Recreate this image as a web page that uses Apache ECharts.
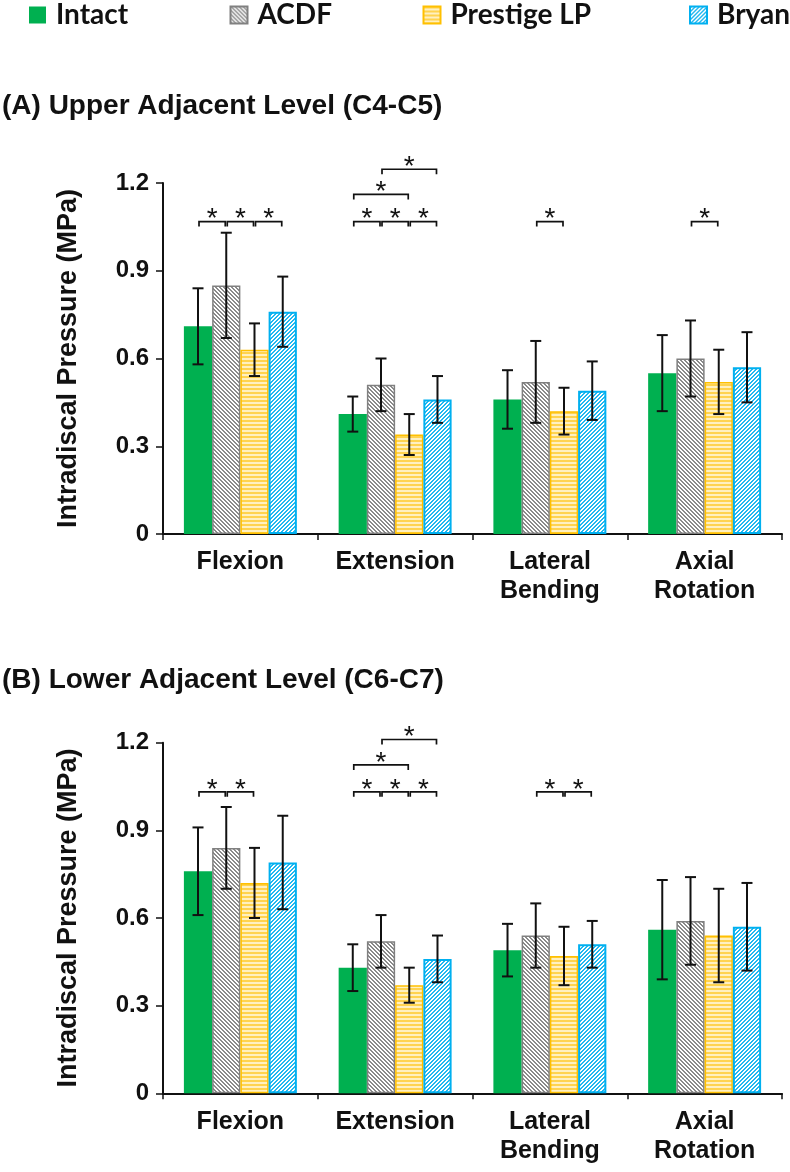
<!DOCTYPE html>
<html>
<head>
<meta charset="utf-8">
<script src="https://cdn.jsdelivr.net/npm/echarts@6/dist/echarts.min.js"></script>
<style>
html,body{margin:0;padding:0;background:#fff;}
#chart{width:790px;height:1172px;}
</style>
</head>
<body>
<div id="chart"></div>
<script>
// ---------- data ----------
const categories = ['Flexion', 'Extension', 'Lateral\nBending', 'Axial\nRotation'];
const seriesNames = ['Intact', 'ACDF', 'Prestige LP', 'Bryan'];
const yTicks = [0, 0.3, 0.6, 0.9, 1.2];

// (A) Upper adjacent level (C4-C5): mean and SD (MPa)
const upperIntact   = [0.71, 0.41, 0.46, 0.55];
const upperACDF     = [0.85, 0.51, 0.52, 0.60];
const upperPrestige = [0.63, 0.34, 0.42, 0.52];
const upperBryan    = [0.76, 0.46, 0.49, 0.57];
const upperIntactSD   = [0.13, 0.06, 0.10, 0.13];
const upperACDFSD     = [0.18, 0.09, 0.14, 0.13];
const upperPrestigeSD = [0.09, 0.07, 0.08, 0.11];
const upperBryanSD    = [0.12, 0.08, 0.10, 0.12];

// (B) Lower adjacent level (C6-C7)
const lowerIntact   = [0.76, 0.43, 0.49, 0.56];
const lowerACDF     = [0.84, 0.52, 0.54, 0.59];
const lowerPrestige = [0.72, 0.37, 0.47, 0.54];
const lowerBryan    = [0.79, 0.46, 0.51, 0.57];
const lowerIntactSD   = [0.15, 0.08, 0.09, 0.17];
const lowerACDFSD     = [0.14, 0.09, 0.11, 0.15];
const lowerPrestigeSD = [0.12, 0.06, 0.10, 0.16];
const lowerBryanSD    = [0.16, 0.08, 0.08, 0.15];

// significance brackets: [category index, from group, to group, bracket level (MPa)]
const upperBrackets = [
  [0, 0, 1, 1.068], [0, 1, 2, 1.068], [0, 2, 3, 1.068],
  [1, 0, 1, 1.068], [1, 1, 2, 1.068], [1, 2, 3, 1.068],
  [1, 0, 2, 1.161], [1, 1, 3, 1.247],
  [2, 1, 2, 1.068],
  [3, 1, 2, 1.068]
];
const lowerBrackets = [
  [0, 0, 1, 1.032], [0, 1, 2, 1.032],
  [1, 0, 1, 1.032], [1, 1, 2, 1.032], [1, 2, 3, 1.032],
  [1, 0, 2, 1.124], [1, 1, 3, 1.211],
  [2, 1, 2, 1.032], [2, 2, 3, 1.032]
];

// ---------- styling helpers ----------
const FONT = '"Liberation Sans", Arial, sans-serif';
const LEGEND_FONT = 'Lato, "Open Sans", sans-serif';
const GAP_RATIO = 0.27;

function makePattern(kind) {
  const c = document.createElement('canvas');
  const n = 4;
  c.width = n; c.height = n;
  const ctx = c.getContext('2d');
  for (let y = 0; y < n; y++) {
    for (let x = 0; x < n; x++) {
      let col;
      if (kind === 'gray') col = (((x - y) % n + n) % n) < 2 ? '#8a8a8a' : '#ffffff';
      else if (kind === 'blue') col = ((x + y) % n) < 2 ? '#22b8f0' : '#ffffff';
      else col = (y < 2) ? '#ffd34f' : '#fff0c0';
      ctx.fillStyle = col;
      ctx.fillRect(x, y, 1, 1);
    }
  }
  return { image: c, repeat: 'repeat' };
}

const barStyles = [
  { color: '#00b050', borderWidth: 0 },
  { color: makePattern('gray'), borderColor: '#808080', borderWidth: 1.5 },
  { color: makePattern('yellow'), borderColor: '#ffc000', borderWidth: 1.5 },
  { color: makePattern('blue'), borderColor: '#00b0f0', borderWidth: 2 }
];

function barOffset(api, idx) {
  const bandW = api.size([1, 0])[0];
  const bw = bandW * (1 - GAP_RATIO) / 4;
  return (idx - 1.5) * bw;
}

function errorRender(params, api) {
  const cat = api.value(0), s = api.value(1), m = api.value(2), sd = api.value(3);
  const top = api.coord([cat, m + sd]);
  const bot = api.coord([cat, m - sd]);
  const x = top[0] + barOffset(api, s);
  const st = { stroke: '#111', lineWidth: 2 };
  return {
    type: 'group',
    children: [
      { type: 'line', shape: { x1: x, y1: top[1], x2: x, y2: bot[1] }, style: st },
      { type: 'line', shape: { x1: x - 5.5, y1: top[1], x2: x + 5.5, y2: top[1] }, style: st },
      { type: 'line', shape: { x1: x - 5.5, y1: bot[1], x2: x + 5.5, y2: bot[1] }, style: st }
    ]
  };
}

function bracketRender(params, api) {
  const cat = api.value(0), a = api.value(1), b = api.value(2), lvl = api.value(3);
  const p = api.coord([cat, lvl]);
  const x1 = p[0] + barOffset(api, a) + 1;
  const x2 = p[0] + barOffset(api, b) - 1;
  const y = p[1];
  return {
    type: 'group',
    children: [
      { type: 'polyline', shape: { points: [[x1, y + 5], [x1, y], [x2, y], [x2, y + 5]] },
        style: { stroke: '#111', lineWidth: 1.7, fill: null } },
      { type: 'text', x: (x1 + x2) / 2, y: y - 2,
        style: { text: '*', font: '28px ' + FONT, fill: '#111', align: 'center', verticalAlign: 'middle',
                 textAlign: 'center', textVerticalAlign: 'middle' } }
    ]
  };
}

const upperMeans = [upperIntact, upperACDF, upperPrestige, upperBryan];
const upperSDs = [upperIntactSD, upperACDFSD, upperPrestigeSD, upperBryanSD];
const lowerMeans = [lowerIntact, lowerACDF, lowerPrestige, lowerBryan];
const lowerSDs = [lowerIntactSD, lowerACDFSD, lowerPrestigeSD, lowerBryanSD];

function errorData(means, sds) {
  const out = [];
  means.forEach((arr, s) => arr.forEach((m, c) => out.push([c, s, m, sds[s][c]])));
  return out;
}

const grids = [
  { left: 163, top: 183, width: 619, height: 351 },
  { left: 163, top: 742.7, width: 619, height: 350.6 }
];

const xAxes = grids.map((g, i) => ({
  type: 'category', gridIndex: i, data: categories,
  axisLine: { lineStyle: { color: '#111', width: 2 } },
  axisTick: { show: true, length: 6, lineStyle: { color: '#111', width: 1.5 } },
  axisLabel: { interval: 0, hideOverlap: false, color: '#111', fontSize: 25, fontWeight: 'bold',
               fontFamily: FONT, lineHeight: 29, margin: 14 }
}));

const yAxes = grids.map((g, i) => ({
  type: 'value', gridIndex: i, min: 0, max: 1.2, interval: 0.3,
  name: 'Intradiscal Pressure (MPa)', nameLocation: 'middle', nameGap: 81, nameRotate: 90,
  nameTextStyle: { color: '#111', fontSize: 27, fontWeight: 'bold', fontFamily: FONT },
  axisLine: { show: true, lineStyle: { color: '#111', width: 2 } },
  axisTick: { show: true, length: 7, lineStyle: { color: '#111', width: 1.5 } },
  splitLine: { show: false },
  axisLabel: {
    color: '#111', fontSize: 24, fontWeight: 'bold', fontFamily: FONT, margin: 14,
    formatter: v => { const t = yTicks.find(k => Math.abs(k - v) < 1e-6); return t === undefined ? '' : String(t); }
  }
}));

const series = [];
[upperMeans, lowerMeans].forEach((means, gi) => {
  means.forEach((arr, s) => {
    series.push({
      type: 'bar', name: seriesNames[s], xAxisIndex: gi, yAxisIndex: gi, data: arr,
      barGap: 0, barCategoryGap: (GAP_RATIO * 100) + '%',
      itemStyle: barStyles[s], emphasis: { disabled: true }, silent: true
    });
  });
});
series.push({ type: 'custom', xAxisIndex: 0, yAxisIndex: 0, renderItem: errorRender, encode: { x: 0, y: 2 },
  data: errorData(upperMeans, upperSDs), z: 10, silent: true });
series.push({ type: 'custom', xAxisIndex: 1, yAxisIndex: 1, renderItem: errorRender, encode: { x: 0, y: 2 },
  data: errorData(lowerMeans, lowerSDs), z: 10, silent: true });
series.push({ type: 'custom', xAxisIndex: 0, yAxisIndex: 0, renderItem: bracketRender, encode: { x: 0, y: 3 },
  data: upperBrackets, z: 10, silent: true, clip: false });
series.push({ type: 'custom', xAxisIndex: 1, yAxisIndex: 1, renderItem: bracketRender, encode: { x: 0, y: 3 },
  data: lowerBrackets, z: 10, silent: true, clip: false });

const legendLefts = [29, 229.5, 422.5, 689];
const legends = seriesNames.map((n, i) => ({
  data: [n], left: legendLefts[i], top: 0, padding: 0, itemWidth: 17, itemHeight: 17, icon: 'rect',
  selectedMode: false,
  textStyle: { color: '#111', fontSize: 28, fontWeight: 'bold', fontFamily: LEGEND_FONT, lineHeight: 30,
               padding: [0, 0, 0, 5] }
}));

const chart = echarts.init(document.getElementById('chart'), null, { renderer: 'canvas' });
chart.setOption({
  animation: false,
  backgroundColor: '#fff',
  title: [
    { text: '(A) Upper Adjacent Level (C4-C5)', left: 2, top: 90, padding: 0,
      textStyle: { color: '#111', fontSize: 28, fontWeight: 'bold', fontFamily: FONT, lineHeight: 32 } },
    { text: '(B) Lower Adjacent Level (C6-C7)', left: 2, top: 664, padding: 0,
      textStyle: { color: '#111', fontSize: 28, fontWeight: 'bold', fontFamily: FONT, lineHeight: 32 } }
  ],
  legend: legends,
  grid: grids,
  xAxis: xAxes,
  yAxis: yAxes,
  series: series
});
</script>
</body>
</html>
